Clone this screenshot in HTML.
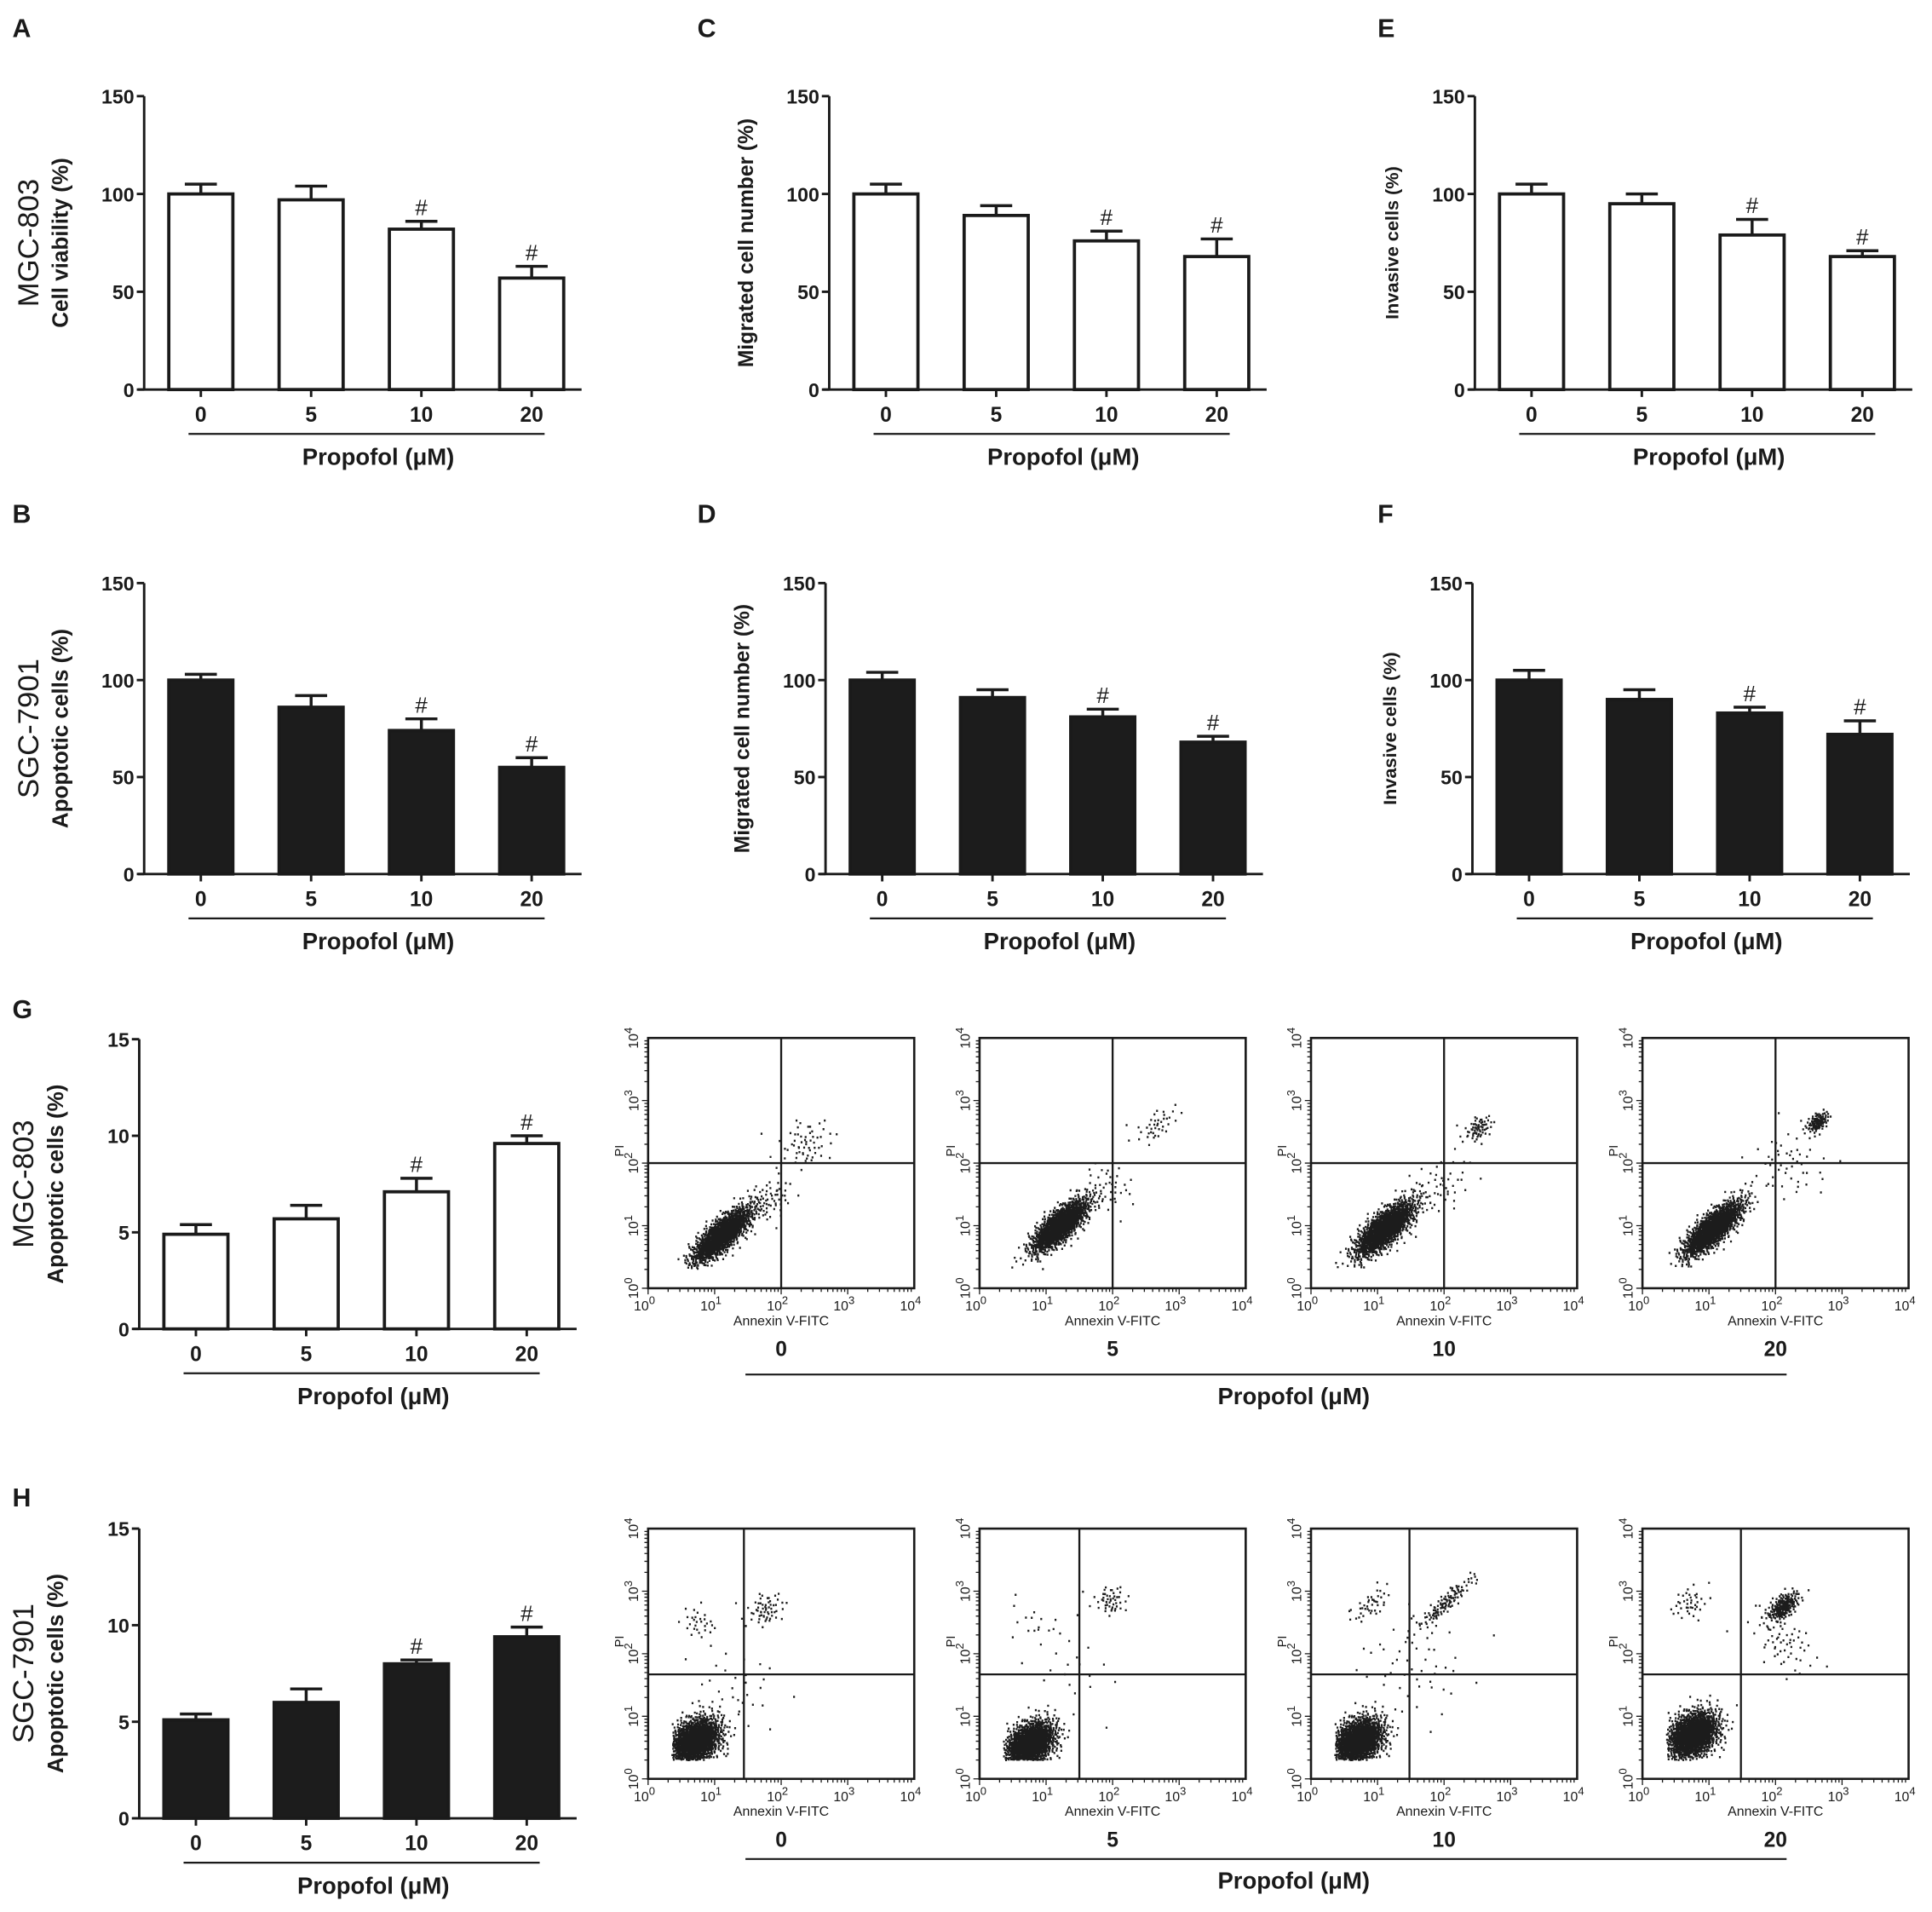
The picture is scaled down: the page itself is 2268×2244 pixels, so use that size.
<!DOCTYPE html>
<html><head><meta charset="utf-8"><style>
html,body{margin:0;padding:0;background:#fff}
svg{display:block}
text{font-family:"Liberation Sans",Arial,sans-serif;fill:#1a1a1a}
</style></head><body>
<svg id="fig" xmlns="http://www.w3.org/2000/svg" width="2268" height="2244" viewBox="0 0 1568 1551" preserveAspectRatio="none">
<rect width="1568" height="1551" fill="#fff"/>
</svg>
<script>
const cats = ['0','5','10','20'];
const valsA = [100, 97, 82, 57];   const errA = [105, 104, 86, 63];   const sigA = [0,0,1,1];
const valsC = [100, 89, 76, 68];   const errC = [105, 94, 81, 77];    const sigC = [0,0,1,1];
const valsE = [100, 95, 79, 68];   const errE = [105, 100, 87, 71];   const sigE = [0,0,1,1];
const valsB = [100, 86, 74, 55];   const errB = [103, 92, 80, 60];    const sigB = [0,0,1,1];
const valsD = [100, 91, 81, 68];   const errD = [104, 95, 85, 71];    const sigD = [0,0,1,1];
const valsF = [100, 90, 83, 72];   const errF = [105, 95, 86, 79];    const sigF = [0,0,1,1];
const valsG = [4.9, 5.7, 7.1, 9.6]; const errG = [5.4, 6.4, 7.8, 10.0]; const sigG = [0,0,1,1];
const valsH = [5.1, 6.0, 8.0, 9.4]; const errH = [5.4, 6.7, 8.2, 9.9];  const sigH = [0,0,1,1];
const ticks150 = [0, 50, 100, 150];
const ticks15 = [0, 5, 10, 15];
// flow cytometry clusters: [centerLogX, centerLogY, spreadAlongDiag, spreadAcross, count]
const flowG0 = [[1.1,0.85,0.3,0.1,1500],[2.35,2.3,0.22,0.18,60],[1.8,1.4,0.2,0.15,60]];
const flowG5 = [[1.2,1.0,0.28,0.1,1500],[2.65,2.6,0.2,0.1,40],[1.9,1.6,0.2,0.2,40]];
const flowG10 = [[1.1,0.95,0.3,0.11,1500],[2.5,2.55,0.12,0.08,70],[1.9,1.6,0.3,0.2,50]];
const flowG20 = [[1.05,0.95,0.3,0.1,1500],[2.62,2.65,0.1,0.06,110],[2.2,2.0,0.3,0.3,50]];
const flowH0 = [[0.7,0.6,0.22,0.16,1500],[1.75,2.7,0.15,0.12,60],[0.75,2.5,0.12,0.15,30],[1.3,1.4,0.3,0.4,30]];
const flowH5 = [[0.75,0.55,0.22,0.15,1500],[1.95,2.85,0.12,0.12,50],[0.8,2.5,0.15,0.25,15],[1.4,1.8,0.3,0.4,20]];
const flowH10 = [[0.7,0.6,0.22,0.16,1500],[2.0,2.8,0.3,0.06,120],[0.9,2.8,0.2,0.08,40],[1.5,1.8,0.4,0.5,50]];
const flowH20 = [[0.75,0.7,0.22,0.16,1500],[2.1,2.75,0.15,0.08,200],[0.7,2.8,0.15,0.12,40],[2.1,2.2,0.2,0.3,60]];

const NS='http://www.w3.org/2000/svg';
const svg=document.getElementById('fig');
function el(tag,attrs,parent){const e=document.createElementNS(NS,tag);for(const k in attrs)e.setAttribute(k,attrs[k]);(parent||svg).appendChild(e);return e;}
function txt(s,x,y,size,opts,parent){opts=opts||{};const t=el('text',{x:x,y:y,'font-size':size,'font-weight':opts.w||'bold','text-anchor':opts.a||'middle'},parent);if(opts.rot)t.setAttribute('transform','rotate(-90 '+x+' '+y+')');t.textContent=s;return t;}

function barChart(name,ax,yTop,yBot,ymax,tks,vals,errs,sig,fill,ylab,cell,labFont,letter,lx,ly){
  const g=el('g',{});
  
  
  const ys=v=>yBot-(v/ymax)*(yBot-yTop);
  const xs=i=>ax+46+i*89.5;
  const bw=52;
  const L=txt(letter,lx,ly,21,{a:'start'},g);
  
  
  const ya=el('line',{x1:ax,y1:yTop,x2:ax,y2:yBot,stroke:'#1a1a1a','stroke-width':2},g);
  
  
  const xa=el('line',{x1:ax-5,y1:yBot,x2:ax+355,y2:yBot,stroke:'#1a1a1a','stroke-width':2},g);
  
  
  tks.forEach(t=>{
    el('line',{x1:ax-6,y1:ys(t),x2:ax,y2:ys(t),stroke:'#1a1a1a','stroke-width':2},g);
    const tl=txt(String(t),ax-8,ys(t)+6,16,{a:'end'},g);
    
    
  });
  vals.forEach((v,i)=>{
    const cx=xs(i);
    const r=el('rect',{x:cx-bw/2,y:ys(v),width:bw,height:yBot-ys(v),fill:fill,stroke:'#1a1a1a','stroke-width':2.6},g);
    
    
    const e=el('path',{d:'M'+cx+' '+ys(v)+'V'+ys(errs[i])+'M'+(cx-13)+' '+ys(errs[i])+'H'+(cx+13),stroke:'#1a1a1a','stroke-width':2.4,fill:'none'},g);
    
    
    if(sig[i]){const s=txt('#',cx,ys(errs[i])-5,18,{w:'normal'},g);}
    el('line',{x1:cx,y1:yBot,x2:cx,y2:yBot+6,stroke:'#1a1a1a','stroke-width':2},g);
    const xl=txt(cats[i],cx,yBot+26,17,{},g);
    
    
  });
  el('line',{x1:ax+36,y1:yBot+36,x2:ax+325,y2:yBot+36,stroke:'#1a1a1a','stroke-width':1.6},g);
  const xt=txt('Propofol (μM)',ax+190,yBot+61,19,{},g);
  
  
  const yl=txt(ylab,ax-62,(yTop+yBot)/2,labFont,{rot:1},g);
  
  
  if(cell){const c=txt(cell,ax-86,(yTop+yBot)/2,24,{rot:1,w:'normal'},g);}
}
barChart('panel-a-chart',117,78,316,150,ticks150,valsA,errA,sigA,'#fff','Cell viability (%)','MGC-803',18,'A',10,30);
barChart('panel-c-chart',673,78,316,150,ticks150,valsC,errC,sigC,'#fff','Migrated cell number (%)',null,17,'C',566,30);
barChart('panel-e-chart',1197,78,316,150,ticks150,valsE,errE,sigE,'#fff','Invasive cells (%)',null,15,'E',1118,30);
barChart('panel-b-chart',117,473,709,150,ticks150,valsB,errB,sigB,'#1c1c1c','Apoptotic cells (%)','SGC-7901',18,'B',10,424);
barChart('panel-d-chart',670,473,709,150,ticks150,valsD,errD,sigD,'#1c1c1c','Migrated cell number (%)',null,17,'D',566,424);
barChart('panel-f-chart',1195,473,709,150,ticks150,valsF,errF,sigF,'#1c1c1c','Invasive cells (%)',null,15,'F',1118,424);
barChart('panel-g-chart',113,843,1078,15,ticks15,valsG,errG,sigG,'#fff','Apoptotic cells (%)','MGC-803',18,'G',10,826);
barChart('panel-h-chart',113,1240,1475,15,ticks15,valsH,errH,sigH,'#1c1c1c','Apoptotic cells (%)','SGC-7901',18,'H',10,1222);

function halton(i,b){let f=1,r=0;while(i>0){f/=b;r+=f*(i%b);i=Math.floor(i/b);}return r;}
function flow(name,x0,y0,qx,qy,clusters,label){
  const W=216,H=203;
  const g=el('g',{});
  
  
  const sx=l=>x0+l/4*W, sy=l=>y0+H-l/4*H;
  let d='';let idx=1;
  clusters.forEach(c=>{
    for(let k=0;k<c[4];k++,idx++){
      const u=Math.max(halton(idx,2),1e-4),v=halton(idx,3);
      const rr=Math.sqrt(-2*Math.log(u));
      const a=rr*Math.cos(2*Math.PI*v)*c[2], b=rr*Math.sin(2*Math.PI*v)*c[3];
      const lx=c[0]+(a-b)*0.7071, ly=c[1]+(a+b)*0.7071;
      if(lx<0.35||ly<0.3||lx>3.98||ly>3.98)continue;
      d+='M'+sx(lx).toFixed(1)+' '+sy(ly).toFixed(1)+'h1.5';
    }
  });
  const p=el('path',{d:d,stroke:'#1c1c1c','stroke-width':1.7,fill:'none'},g);
  
  
  const fr=el('rect',{x:x0,y:y0,width:W,height:H,fill:'none',stroke:'#1a1a1a','stroke-width':1.8},g);
  
  
  const q=el('path',{d:'M'+sx(qx)+' '+y0+'V'+(y0+H)+'M'+x0+' '+sy(qy)+'H'+(x0+W),stroke:'#1a1a1a','stroke-width':1.6},g);
  
  
  let t='';
  for(let dec=0;dec<4;dec++)for(let m=1;m<10;m++){const l=dec+Math.log10(m);const len=m==1?5:3;t+='M'+sx(l)+' '+(y0+H)+'v'+len+'M'+x0+' '+sy(l)+'h-'+len;}
  el('path',{d:t,stroke:'#1a1a1a','stroke-width':0.9},g);
  for(let e=0;e<=4;e++){
    const a=el('text',{x:sx(e)-3,y:y0+H+18,'font-size':11,'text-anchor':'middle'},g);
    a.innerHTML='10<tspan dy="-5" font-size="9">'+e+'</tspan>';
    
    
    const b=el('text',{x:x0-8,y:sy(e),'font-size':11,'text-anchor':'middle',transform:'rotate(-90 '+(x0-8)+' '+sy(e)+')'},g);
    b.innerHTML='10<tspan dy="-5" font-size="9">'+e+'</tspan>';
    
    
  }
  const ax=txt('Annexin V-FITC',x0+W/2,y0+H+30,11,{w:'normal'},g);
  
  
  const ay=txt('PI',x0-20,sy(2)-10,10,{rot:1,w:'normal'},g);
  
  
  const cl=txt(label,x0+W/2,y0+H+55,17,{},g);
  
  
}
const gx=[526,795,1064,1333];
flow('flow-g-0',gx[0],842,2,2,flowG0,'0');
flow('flow-g-5',gx[1],842,2,2,flowG5,'5');
flow('flow-g-10',gx[2],842,2,2,flowG10,'10');
flow('flow-g-20',gx[3],842,2,2,flowG20,'20');
flow('flow-h-0',gx[0],1240,1.44,1.67,flowH0,'0');
flow('flow-h-5',gx[1],1240,1.5,1.67,flowH5,'5');
flow('flow-h-10',gx[2],1240,1.48,1.67,flowH10,'10');
flow('flow-h-20',gx[3],1240,1.48,1.67,flowH20,'20');
[[1115,1137],[1508,1530]].forEach((r,i)=>{
  el('line',{x1:605,y1:r[0],x2:1450,y2:r[0],stroke:'#1a1a1a','stroke-width':1.5});
  const t=txt('Propofol (μM)',1050,r[1]+2,19,{});
  
  
});
</script>
</body></html>
